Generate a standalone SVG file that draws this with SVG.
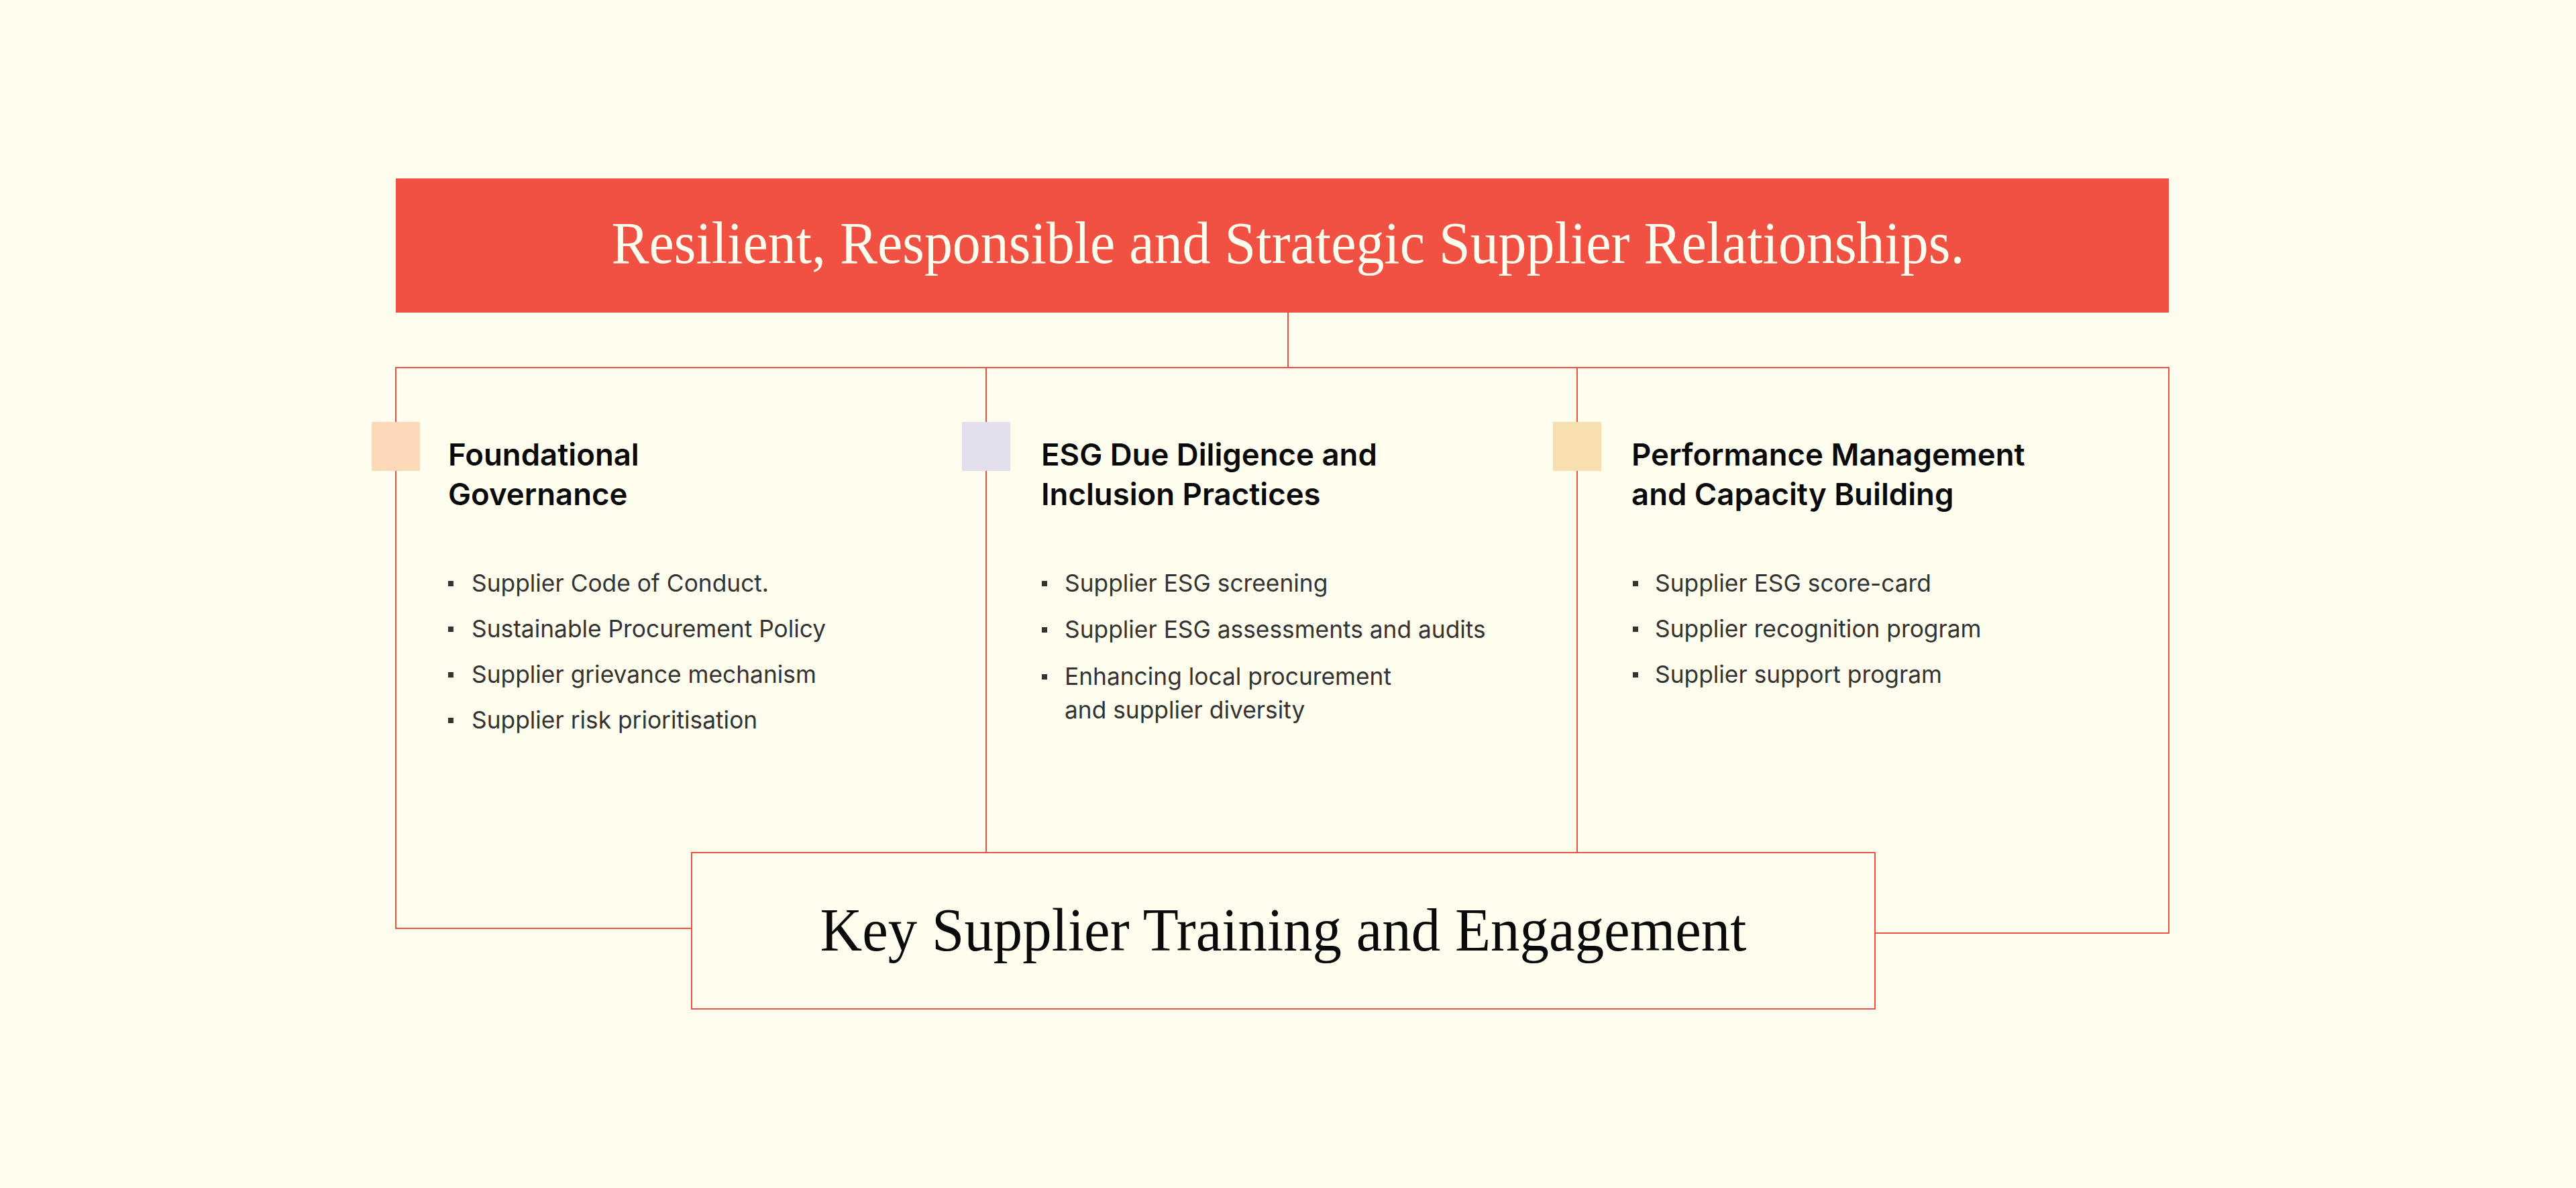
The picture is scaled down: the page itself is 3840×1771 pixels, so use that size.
<svg xmlns="http://www.w3.org/2000/svg" width="3840" height="1771" viewBox="0 0 3840 1771">
  <style>
    .bg { fill: #FFFDEE; }
    .ln { stroke: #F05142; stroke-width: 2; fill: none; }
    .serif { font-family: "Liberation Serif", "DejaVu Serif", serif; }
    .head { font-family: Inter, "Noto Sans", sans-serif; font-weight: 600; font-size: 45.5px; fill: #0A0A0A; }
    .item { font-family: Inter, "Noto Sans", sans-serif; font-weight: 400; font-size: 35.3px; fill: #333333; }
    .dot { fill: #333333; }
  </style>
  <rect class="bg" x="0" y="0" width="3840" height="1771"/>

  <g id="connectors">
    <line class="ln" x1="1920" y1="466" x2="1920" y2="548"/>
    <line class="ln" x1="589" y1="548" x2="3234" y2="548"/>
    <polyline class="ln" points="590,548 590,1384 1031,1384"/>
    <line class="ln" x1="1470" y1="548" x2="1470" y2="1271"/>
    <line class="ln" x1="2351" y1="548" x2="2351" y2="1271"/>
    <polyline class="ln" points="3233,548 3233,1391 2795,1391"/>
  </g>

  <g id="top-goal">
    <rect x="590" y="266" width="2643" height="200" fill="#F05142"/>
    <text class="serif" x="1920" y="392" text-anchor="middle" font-size="89" fill="#FFFDEE" textLength="2017" lengthAdjust="spacingAndGlyphs">Resilient, Responsible and Strategic Supplier Relationships.</text>
  </g>

  <g id="pillar-foundational">
    <rect x="554" y="629" width="72" height="73" fill="#FDD9BA"/>
    <text class="head" x="668" y="694">Foundational</text>
    <text class="head" x="668" y="753">Governance</text>
    <rect class="dot" x="668" y="866" width="8" height="8"/>
    <text class="item" x="703" y="882">Supplier Code of Conduct.</text>
    <rect class="dot" x="668" y="934" width="8" height="8"/>
    <text class="item" x="703" y="950">Sustainable Procurement Policy</text>
    <rect class="dot" x="668" y="1002" width="8" height="8"/>
    <text class="item" x="703" y="1018">Supplier grievance mechanism</text>
    <rect class="dot" x="668" y="1070" width="8" height="8"/>
    <text class="item" x="703" y="1086">Supplier risk prioritisation</text>
  </g>

  <g id="pillar-esg">
    <rect x="1434" y="629" width="72" height="73" fill="#E3DFEE"/>
    <text class="head" x="1552" y="694">ESG Due Diligence and</text>
    <text class="head" x="1552" y="753">Inclusion Practices</text>
    <rect class="dot" x="1553" y="866" width="8" height="8"/>
    <text class="item" x="1587" y="882">Supplier ESG screening</text>
    <rect class="dot" x="1553" y="935" width="8" height="8"/>
    <text class="item" x="1587" y="951">Supplier ESG assessments and audits</text>
    <rect class="dot" x="1553" y="1005" width="8" height="8"/>
    <text class="item" x="1587" y="1021">Enhancing local procurement</text>
    <text class="item" x="1587" y="1071">and supplier diversity</text>
  </g>

  <g id="pillar-performance">
    <rect x="2315" y="629" width="72" height="73" fill="#F8DFB0"/>
    <text class="head" x="2432" y="694">Performance Management</text>
    <text class="head" x="2432" y="753">and Capacity Building</text>
    <rect class="dot" x="2434" y="866" width="8" height="8"/>
    <text class="item" x="2467" y="882">Supplier ESG score-card</text>
    <rect class="dot" x="2434" y="934" width="8" height="8"/>
    <text class="item" x="2467" y="950">Supplier recognition program</text>
    <rect class="dot" x="2434" y="1002" width="8" height="8"/>
    <text class="item" x="2467" y="1018">Supplier support program</text>
  </g>

  <g id="training">
    <rect class="ln" x="1031" y="1271" width="1764" height="233" fill="#FFFDEE"/>
    <text class="serif" x="1913" y="1417" text-anchor="middle" font-size="91" fill="#0A0A0A" textLength="1381" lengthAdjust="spacingAndGlyphs">Key Supplier Training and Engagement</text>
  </g>
</svg>
